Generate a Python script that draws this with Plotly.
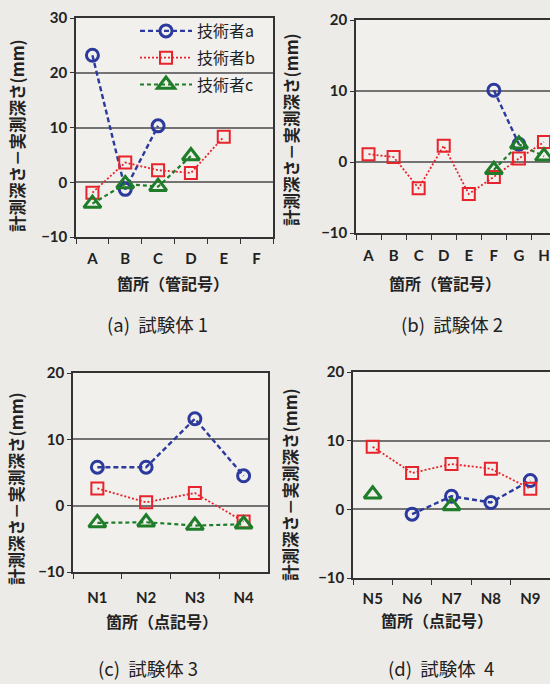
import plotly.graph_objects as go

# ---------------- data ----------------
cats_a = ["A", "B", "C", "D", "E", "F"]
a1_tech_a = [23.2, -1.3, 10.3, None, None, None]
a1_tech_b = [-1.9, 3.6, 2.2, 1.7, 8.3, None]
a1_tech_c = [-3.9, -0.3, -0.8, 4.8, None, None]

cats_b = ["A", "B", "C", "D", "E", "F", "G", "H"]
b2_tech_a = [None, None, None, None, None, 10.1, 2.5, None]
b2_tech_b = [1.1, 0.7, -3.7, 2.3, -4.5, -2.1, 0.5, 2.8]
b2_tech_c = [None, None, None, None, None, -1.1, 2.5, 0.8]

cats_c = ["N1", "N2", "N3", "N4"]
c3_tech_a = [5.8, 5.8, 13.1, 4.5]
c3_tech_b = [2.6, 0.5, 1.9, -2.4]
c3_tech_c = [-2.6, -2.5, -3.0, -2.8]

cats_d = ["N5", "N6", "N7", "N8", "N9"]
d4_tech_a = [None, -0.7, 1.9, 1.0, 4.2]
d4_tech_b = [9.1, 5.3, 6.6, 5.9, 3.0]
d4_tech_c = [2.2, None, 0.5, None, None]

names = ["技術者a", "技術者b", "技術者c"]
captions = ["(a)  試験体 1", "(b)  試験体 2", "(c)  試験体 3", "(d)  試験体  4"]
xtitle_pipe = "箇所（管記号）"
xtitle_point = "箇所（点記号）"
ytitle = "計測深さ－実測深さ(mm)"

# ---------------- style ----------------
BLUE = "#2b3a9c"
RED = "#e8232b"
GREEN = "#1f7d2a"
BG = "#ecebe7"
PLOT_BG = "#f1f0ed"
FONT = "Noto Sans CJK JP"
TICKFONT = "Lato"

styles = [
    dict(color=BLUE, dash="5px,3px", width=2.4, symbol="circle-open", size=12, mlw=3),
    dict(color=RED, dash="2px,2px", width=1.8, symbol="square-open", size=12, mlw=2),
    dict(color=GREEN, dash="4px,3px", width=2.2, symbol="triangle-up-open", size=15, mlw=3),
]

fig = go.Figure()

panels = [
    (cats_a, [a1_tech_a, a1_tech_b, a1_tech_c], "x", "y"),
    (cats_b, [b2_tech_a, b2_tech_b, b2_tech_c], "x2", "y2"),
    (cats_c, [c3_tech_a, c3_tech_b, c3_tech_c], "x3", "y3"),
    (cats_d, [d4_tech_a, d4_tech_b, d4_tech_c], "x4", "y4"),
]

for p, (cats, series, xa, ya) in enumerate(panels):
    for i, (vals, st) in enumerate(zip(series, styles)):
        fig.add_trace(go.Scatter(
            x=cats, y=vals, xaxis=xa, yaxis=ya,
            mode="lines+markers", name=names[i],
            legendgroup=names[i], showlegend=(p == 0),
            connectgaps=False, cliponaxis=True,
            line=dict(color=st["color"], dash=st["dash"], width=st["width"]),
            marker=dict(symbol=st["symbol"], size=st["size"], color=st["color"],
                        line=dict(color=st["color"], width=st["mlw"])),
        ))

W, H = 550, 684

def xdom(l, r):
    return [l / W, min(r / W, 1.0)]

def ydom(top, bottom):
    return [(H - bottom) / H, (H - top) / H]

def xaxis(dom, cats, rng, anchor, standoff, mirror=True):
    return dict(domain=dom, anchor=anchor, type="category", categoryarray=cats,
                range=rng, tickson="boundaries", ticks="outside", ticklen=5,
                tickcolor="#333", showline=True, linecolor="#333", linewidth=1.5,
                mirror=mirror, showgrid=False, zeroline=False,
                ticklabelstandoff=standoff,
                tickfont=dict(family=TICKFONT, size=15, color="#222", weight="bold"))

def yaxis(dom, rng, anchor, mirror=True):
    return dict(domain=dom, anchor=anchor, range=rng, dtick=10, tick0=0,
                ticks="outside", ticklen=4, tickcolor="#333",
                showline=True, linecolor="#333", linewidth=1.5, mirror=mirror,
                showgrid=True, gridcolor="#737373", gridwidth=1.5, zeroline=False,
                tickfont=dict(family=TICKFONT, size=15, color="#222", weight="bold"))

fig.update_layout(
    width=W, height=H,
    margin=dict(l=0, r=0, t=0, b=0, autoexpand=False),
    paper_bgcolor=BG, plot_bgcolor=PLOT_BG,
    font=dict(family=FONT, color="#222"),
    xaxis=xaxis(xdom(76, 273), cats_a, [-0.5, 5.5], "y", 7),
    yaxis=yaxis(ydom(18, 237), [-10, 30], "x"),
    xaxis2=xaxis(xdom(356, 550), cats_b, [-0.5, 7.24], "y2", 8),
    yaxis2=yaxis(ydom(20, 233), [-10, 20], "x2", mirror=False),
    xaxis3=xaxis(xdom(73, 268), cats_c, [-0.5, 3.5], "y3", 11),
    yaxis3=yaxis(ydom(373, 572), [-10, 20], "x3"),
    xaxis4=xaxis(xdom(353, 550), cats_d, [-0.5, 4.5], "y4", 6),
    yaxis4=yaxis(ydom(372, 578), [-10, 20], "x4", mirror=False),
    showlegend=True,
    legend=dict(x=135 / W, y=1 - 14 / H, xanchor="left", yanchor="top",
                bgcolor="rgba(0,0,0,0)", tracegroupgap=3, itemwidth=52,
                font=dict(family=FONT, size=16, color="#222")),
)

ann = []
# y-axis titles
for xc, yc in [(17, 136), (291, 130), (16, 489), (290, 485)]:
    ann.append(dict(text=ytitle, x=xc / W, y=1 - yc / H, xref="paper", yref="paper",
                    showarrow=False, textangle=-90, xanchor="center", yanchor="middle",
                    font=dict(family=FONT, size=16.5, color="#222", weight="bold")))
# x-axis titles
for txt, xc, yc in [(xtitle_pipe, 173, 283), (xtitle_pipe, 445, 283),
                    (xtitle_point, 162, 621), (xtitle_point, 437, 620)]:
    ann.append(dict(text=txt, x=xc / W, y=1 - yc / H, xref="paper", yref="paper",
                    showarrow=False, xanchor="center", yanchor="middle",
                    font=dict(family=FONT, size=16, color="#222", weight="bold")))
# captions
for txt, xc, yc in zip(captions, [157, 452, 148, 441], [324, 324, 668, 668]):
    ann.append(dict(text=txt, x=xc / W, y=1 - yc / H, xref="paper", yref="paper",
                    showarrow=False, xanchor="center", yanchor="middle",
                    font=dict(family=FONT, size=18.5, color="#222")))
fig.update_layout(annotations=ann)

fig.write_html(
    "out.html",
    config={"displayModeBar": False},
    post_script="document.body.style.margin='0';document.body.style.overflow='hidden';",
)
